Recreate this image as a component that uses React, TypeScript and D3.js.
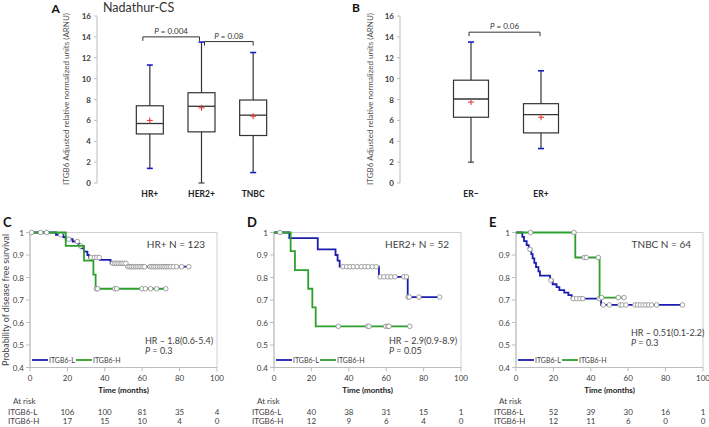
import React from 'react';
import * as d3 from 'd3';

const FONT = "Lato, 'Open Sans', sans-serif";

// ---------- Panel A (box plots) ----------
const aCategories = ['HR+', 'HER2+', 'TNBC'];
const aWhiskerLow = [1.4, 0, 1.0];
const aQ1 = [4.7, 4.9, 4.55];
const aMedian = [5.7, 7.35, 6.5];
const aQ3 = [7.4, 8.65, 7.95];
const aWhiskerHigh = [11.3, 13.5, 12.5];
const aMean = [6.0, 7.2, 6.4];
const aLowMarked = [true, false, true];
const aBrackets = [
  { from: 0, to: 1, level: 14.0, p: '0.004' },
  { from: 1, to: 2, level: 13.55, p: '0.08' },
];

// ---------- Panel B (box plots) ----------
const bCategories = ['ER\u2212', 'ER+'];
const bWhiskerLow = [2.0, 3.3];
const bQ1 = [6.3, 4.8];
const bMedian = [8.05, 6.55];
const bQ3 = [9.85, 7.6];
const bWhiskerHigh = [13.5, 10.75];
const bMean = [7.75, 6.3];
const bLowMarked = [false, true];
const bBrackets = [{ from: 0, to: 1, level: 14.45, p: '0.06' }];

const boxYTicks = [0, 2, 4, 6, 8, 10, 12, 14, 16];

// ---------- KM panels ----------
const kmTimeTicks = [0, 20, 40, 60, 80, 100];
const kmSurvTicks = [0.4, 0.5, 0.6, 0.7, 0.8, 0.9, 1];
const riskTimes = [20, 40, 60, 80, 100];

// C: HR+
const cLowSteps: [number, number][] = [[0, 1], [13.9, 0.99], [17.8, 0.98], [19.1, 0.97], [22.8, 0.96], [25.8, 0.95], [26.4, 0.94], [27.5, 0.93], [28.9, 0.915], [30.7, 0.9], [31.5, 0.889], [37.4, 0.878], [43.1, 0.863], [51.7, 0.848]];
const cLowEnd = 84.9;
const cLowCensor = [16.4, 20.7, 25.3, 27.1, 32.6, 34.4, 35.7, 37.0, 44.2, 45.2, 46.2, 47.2, 48.2, 49.2, 50.2, 51.3, 52.4, 53.4, 54.4, 55.4, 56.4, 57.4, 58.4, 59.4, 60.4, 61.3, 64.2, 65.2, 66.2, 67.2, 68.2, 69.2, 70.2, 71.2, 72.2, 73.2, 74.2, 75.2, 76.6, 78.4, 81.1, 84.9];
const cHighSteps: [number, number][] = [[0, 1], [19.1, 0.941], [28.9, 0.875], [33.9, 0.8125], [35.1, 0.75]];
const cHighEnd = 72.6;
const cHighCensor = [0.9, 5.7, 8.9, 35.5, 36.2, 45.3, 46.4, 59.9, 61.7, 64.5, 67.7, 72.6];
const cRiskL = [106, 100, 81, 35, 4];
const cRiskH = [17, 15, 10, 4, 0];

// D: HER2+
const dLowSteps: [number, number][] = [[0, 1], [8.2, 0.975], [23.4, 0.925], [32.9, 0.9], [34.0, 0.875], [35.1, 0.848], [56.1, 0.803], [71.5, 0.713]];
const dLowEnd = 88.6;
const dLowCensor = [36.9, 38.9, 40.6, 42.4, 44.5, 46.7, 48.7, 50.4, 52.6, 54.7, 56.8, 58.8, 60.8, 62.6, 64.7, 69.4, 70.8, 71.7, 72.4, 77.5, 88.6];
const dHighSteps: [number, number][] = [[0, 1], [8.9, 0.917], [11.2, 0.833], [18.3, 0.75], [20.5, 0.667], [22.3, 0.583]];
const dHighEnd = 72.6;
const dHighCensor = [3.2, 34.4, 50.1, 50.8, 59.7, 60.8, 61.5, 72.6];
const dRiskL = [40, 38, 31, 15, 1];
const dRiskH = [12, 9, 6, 4, 0];

// E: TNBC
const eLowSteps: [number, number][] = [[0, 1], [3.4, 0.981], [4.3, 0.962], [5.7, 0.944], [6.8, 0.925], [8.2, 0.904], [8.9, 0.885], [9.8, 0.865], [10.7, 0.846], [12.0, 0.827], [12.8, 0.808], [18.2, 0.788], [19.6, 0.77], [21.7, 0.757], [23.2, 0.744], [25.8, 0.733], [28.0, 0.722], [29.8, 0.706], [45.5, 0.678]];
const eLowEnd = 89.0;
const eLowCensor = [7.5, 18.7, 30.6, 32.5, 34.2, 35.7, 44.5, 46.7, 49.9, 55.6, 56.8, 58.8, 63.6, 65.0, 66.5, 68.0, 69.5, 71.0, 72.5, 75.2, 89.0];
const eHighSteps: [number, number][] = [[0, 1], [31.7, 0.889], [44.7, 0.711]];
const eHighEnd = 57.8;
const eHighCensor = [7.8, 31.0, 36.5, 37.6, 44.0, 45.8, 54.7, 57.8];
const eRiskL = [52, 39, 30, 16, 1];
const eRiskH = [12, 11, 6, 0, 0];

const kmTitles = ['HR+ N = 123', 'HER2+ N = 52', 'TNBC N = 64'];
const kmHR = ['HR \u2013 1.8(0.6-5.4)', 'HR \u2013 2.9(0.9-8.9)', 'HR \u2013 0.51(0.1-2.2)'];
const kmP = ['0.3', '0.05', '0.3'];
const seriesNames = ['ITGB6-L', 'ITGB6-H'];

const BLUE = '#1c1cae';
const GREEN = '#2ca02c';
const MARK_BLUE = '#1a1ac8';
const TXT = '#404040';
const AXIS = '#bdbdbd';

function survAt(steps: [number, number][], t: number) {
  let s = steps[0][1];
  for (const [tt, ss] of steps) if (tt <= t) s = ss;
  return s;
}

type BoxProps = {
  cats: string[]; low: number[]; q1: number[]; med: number[]; q3: number[]; high: number[]; mean: number[];
  lowMarked: boolean[]; brackets: { from: number; to: number; level: number; p: string }[];
  range: [number, number]; boxW: number; axisX: number; ylabelX: number; bracketOffsets: [number, number][];
};

function BoxPanel(p: BoxProps) {
  const x = d3.scaleBand<string>().domain(p.cats).range(p.range).paddingInner(0);
  const cx = (i: number) => (x(p.cats[i]) as number) + x.bandwidth() / 2;
  const y = d3.scaleLinear().domain([0, 16]).range([183, 16]);
  const capW = 6;
  return (
    <g>
      <line x1={p.axisX} x2={p.axisX} y1={y(0)} y2={y(16)} stroke={AXIS} strokeWidth={1} />
      {boxYTicks.map((t) => (
        <g key={t}>
          <line x1={p.axisX - 3} x2={p.axisX} y1={y(t)} y2={y(t)} stroke={AXIS} />
          <text x={p.axisX - 6} y={y(t) + 3} textAnchor="end" fontSize={8} fontWeight="bold" fill={TXT} fontFamily={FONT}>{t}</text>
        </g>
      ))}
      <text transform={`translate(${p.ylabelX},99) rotate(-90)`} textAnchor="middle" fontSize={8} fill="#555" fontFamily={FONT}>
        ITGB6 Adjusted relative normalized units (ARNU)
      </text>
      {p.cats.map((c, i) => {
        const X = cx(i);
        return (
          <g key={c}>
            <line x1={X} x2={X} y1={y(p.low[i])} y2={y(p.high[i])} stroke="#333" strokeWidth={1.2} />
            <rect x={X - p.boxW / 2} width={p.boxW} y={y(p.q3[i])} height={y(p.q1[i]) - y(p.q3[i])} fill="white" stroke="#333" strokeWidth={1.2} />
            <line x1={X - p.boxW / 2} x2={X + p.boxW / 2} y1={y(p.med[i])} y2={y(p.med[i])} stroke="#333" strokeWidth={1.3} />
            <line x1={X - capW / 2} x2={X + capW / 2} y1={y(p.high[i])} y2={y(p.high[i])} stroke={MARK_BLUE} strokeWidth={1.6} />
            <line x1={X - capW / 2} x2={X + capW / 2} y1={y(p.low[i])} y2={y(p.low[i])} stroke={p.lowMarked[i] ? MARK_BLUE : '#333'} strokeWidth={p.lowMarked[i] ? 1.6 : 1.1} />
            <line x1={X - 3} x2={X + 3} y1={y(p.mean[i])} y2={y(p.mean[i])} stroke="#e03030" strokeWidth={1} />
            <line x1={X} x2={X} y1={y(p.mean[i]) - 3} y2={y(p.mean[i]) + 3} stroke="#e03030" strokeWidth={1} />
            <text x={X} y={197} textAnchor="middle" fontSize={8.5} fontWeight="bold" fill="#222" fontFamily={FONT}>{c}</text>
          </g>
        );
      })}
      {p.brackets.map((b, k) => {
        const x1 = cx(b.from) + p.bracketOffsets[k][0];
        const x2 = cx(b.to) + p.bracketOffsets[k][1];
        const yy = y(b.level);
        return (
          <g key={k}>
            <path d={`M${x1},${yy + 4}V${yy}H${x2}V${yy + 4}`} fill="none" stroke="#333" strokeWidth={1} />
            <text x={(x1 + x2) / 2} y={yy - 3} textAnchor="middle" fontSize={8} fill="#333" fontFamily={FONT}>
              <tspan fontStyle="italic">P</tspan> = {b.p}
            </text>
          </g>
        );
      })}
    </g>
  );
}

type KMProps = {
  x0: number; label: string; idx: number;
  lowSteps: [number, number][]; lowEnd: number; lowCensor: number[];
  highSteps: [number, number][]; highEnd: number; highCensor: number[];
  riskL: number[]; riskH: number[]; hrY: number; showYLabel: boolean;
};

function KMPanel(p: KMProps) {
  const x = d3.scaleLinear().domain([0, 100]).range([p.x0, p.x0 + 187]);
  const y = d3.scaleLinear().domain([0.4, 1]).range([367.5, 232.5]);
  const line = d3.line<[number, number]>().x((d) => x(d[0])).y((d) => y(d[1])).curve(d3.curveStepAfter);
  const mk = (steps: [number, number][], end: number) => [...steps, [end, steps[steps.length - 1][1]] as [number, number]];
  const series = [
    { steps: p.lowSteps, end: p.lowEnd, cens: p.lowCensor, color: BLUE },
    { steps: p.highSteps, end: p.highEnd, cens: p.highCensor, color: GREEN },
  ];
  const [xa, xb] = x.range();
  return (
    <g fontFamily={FONT}>
      <text x={p.x0 - 27} y={227} fontSize={13} fontWeight="bold" fill="#111">{p.label}</text>
      <rect x={xa} y={y(1)} width={xb - xa} height={y(0.4) - y(1)} fill="none" stroke="#d0d0d0" strokeWidth={1} />
      <line x1={xa} x2={xa} y1={y(0.4)} y2={y(1)} stroke={AXIS} />
      <line x1={xa} x2={xb} y1={y(0.4)} y2={y(0.4)} stroke={AXIS} />
      {kmSurvTicks.map((t) => (
        <g key={t}>
          <line x1={xa - 4} x2={xa} y1={y(t)} y2={y(t)} stroke={AXIS} />
          <text x={xa - 6} y={y(t) + 3} textAnchor="end" fontSize={8} fill={TXT}>{d3.format('~g')(t)}</text>
        </g>
      ))}
      {kmTimeTicks.map((t) => (
        <g key={t}>
          <line x1={x(t)} x2={x(t)} y1={y(0.4)} y2={y(0.4) + 4} stroke={AXIS} />
          <text x={x(t)} y={380.5} textAnchor="middle" fontSize={8} fill={TXT}>{t}</text>
        </g>
      ))}
      <text x={(xa + xb) / 2} y={393} textAnchor="middle" fontSize={8} fontWeight="bold" fill="#222">Time (months)</text>
      {series.map((s, k) => (
        <g key={k}>
          <path d={line(mk(s.steps, s.end)) as string} fill="none" stroke={s.color} strokeWidth={1.8} />
          {s.cens.map((t, j) => (
            <circle key={j} cx={x(t)} cy={y(survAt(s.steps, t))} r={2.3} fill="white" stroke="#8a8a8a" strokeWidth={0.8} />
          ))}
        </g>
      ))}
      <text x={xb - 12} y={248} textAnchor="end" fontSize={10} fill={TXT}>{kmTitles[p.idx]}</text>
      <text x={xa + 115} y={p.hrY} fontSize={9} fill={TXT}>{kmHR[p.idx]}</text>
      <text x={xa + 115} y={p.hrY + 10} fontSize={9} fill={TXT}><tspan fontStyle="italic">P</tspan> = {kmP[p.idx]}</text>
      <line x1={xa + 2} x2={xa + 18} y1={360} y2={360} stroke={BLUE} strokeWidth={1.8} />
      <text x={xa + 19} y={362.5} fontSize={7} fill={TXT}>{seriesNames[0]}</text>
      <line x1={xa + 46} x2={xa + 62} y1={360} y2={360} stroke={GREEN} strokeWidth={1.8} />
      <text x={xa + 63} y={362.5} fontSize={7} fill={TXT}>{seriesNames[1]}</text>
      <text x={xa - 17} y={404} fontSize={8} fill={TXT}>At risk</text>
      <text x={xa - 22} y={414.5} fontSize={8} fill={TXT}>{seriesNames[0]}</text>
      <text x={xa - 22} y={423.5} fontSize={8} fill={TXT}>{seriesNames[1]}</text>
      {riskTimes.map((t, j) => (
        <g key={t}>
          <text x={x(t)} y={414.5} textAnchor="middle" fontSize={8} fill={TXT}>{p.riskL[j]}</text>
          <text x={x(t)} y={423.5} textAnchor="middle" fontSize={8} fill={TXT}>{p.riskH[j]}</text>
        </g>
      ))}
      {p.showYLabel && (
        <text transform={`translate(9,300) rotate(-90)`} textAnchor="middle" fontSize={9} fill="#444" textLength={132} lengthAdjust="spacingAndGlyphs">
          Probability of disease free survival
        </text>
      )}
    </g>
  );
}

export default function App() {
  return (
    <svg width={709} height={427} style={{ position: 'absolute', left: 0, top: 0, background: 'white' }}>
      <rect width={709} height={427} fill="white" />
      <text x={51.5} y={13} fontSize={12} fontWeight="bold" fill="#111" fontFamily={FONT}>A</text>
      <text x={103} y={12} fontSize={12.5} fill="#333" fontFamily={FONT}>Nadathur-CS</text>
      <BoxPanel cats={aCategories} low={aWhiskerLow} q1={aQ1} med={aMedian} q3={aQ3} high={aWhiskerHigh} mean={aMean}
        lowMarked={aLowMarked} brackets={aBrackets} range={[124, 279]} boxW={27} axisX={97} ylabelX={69}
        bracketOffsets={[[-7, -2], [3, 0]]} />
      <text x={352} y={12} fontSize={12} fontWeight="bold" fill="#111" fontFamily={FONT}>B</text>
      <BoxPanel cats={bCategories} low={bWhiskerLow} q1={bQ1} med={bMedian} q3={bQ3} high={bWhiskerHigh} mean={bMean}
        lowMarked={bLowMarked} brackets={bBrackets} range={[436, 576]} boxW={35} axisX={400} ylabelX={373}
        bracketOffsets={[[-2, -1]]} />
      <KMPanel x0={30} label="C" idx={0} lowSteps={cLowSteps} lowEnd={cLowEnd} lowCensor={cLowCensor}
        highSteps={cHighSteps} highEnd={cHighEnd} highCensor={cHighCensor} riskL={cRiskL} riskH={cRiskH} hrY={344} showYLabel={true} />
      <KMPanel x0={274} label="D" idx={1} lowSteps={dLowSteps} lowEnd={dLowEnd} lowCensor={dLowCensor}
        highSteps={dHighSteps} highEnd={dHighEnd} highCensor={dHighCensor} riskL={dRiskL} riskH={dRiskH} hrY={344} showYLabel={false} />
      <KMPanel x0={516} label="E" idx={2} lowSteps={eLowSteps} lowEnd={eLowEnd} lowCensor={eLowCensor}
        highSteps={eHighSteps} highEnd={eHighEnd} highCensor={eHighCensor} riskL={eRiskL} riskH={eRiskH} hrY={335.5} showYLabel={false} />
    </svg>
  );
}
